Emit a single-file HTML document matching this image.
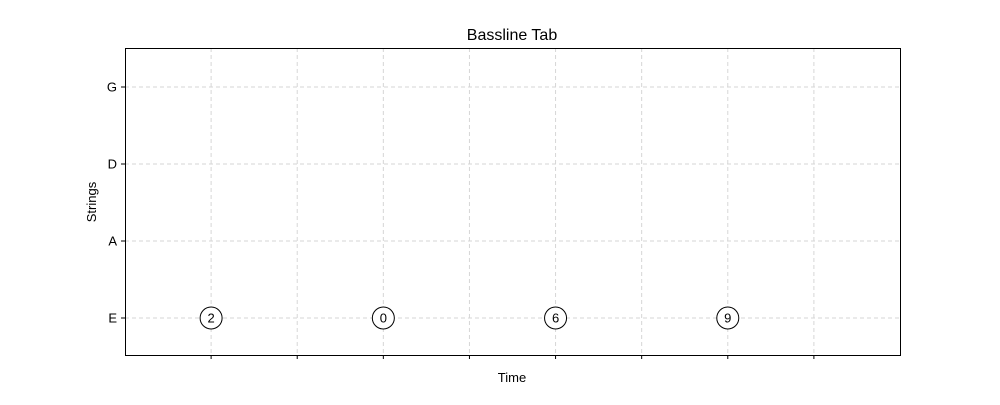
<!DOCTYPE html>
<html><head><meta charset="utf-8"><style>
body{margin:0;background:#fff;font-family:"Liberation Sans","DejaVu Sans",sans-serif}
</style></head><body>
<svg id="chart" width="1000" height="400" xmlns="http://www.w3.org/2000/svg">
<rect width="1000" height="400" fill="#fff"/>
<text x="512" y="40" text-anchor="middle" font-size="16">Bassline Tab</text>
<g id="grid"></g><g id="axes"></g><g id="notes"></g>
<rect x="125.5" y="48.5" width="775" height="307" fill="none" stroke="#000" stroke-width="1"/>
<text x="512" y="382" text-anchor="middle" font-size="13">Time</text>
<text x="96" y="202" text-anchor="middle" font-size="13" transform="rotate(-90 96 202)">Strings</text>
</svg>
<script>
const strings=["E","A","D","G"];
const xTicks=[1,2,3,4,5,6,7,8];
const noteTimes=[1,3,5,7];
const noteStrings=[0,0,0,0];
const noteFrets=["2","0","6","9"];
const L=125,R=900,T=48,B=355,xMin=0,xMax=9,yMin=-0.5,yMax=3.5;
const sx=v=>L+(v-xMin)/(xMax-xMin)*(R-L);
const sy=v=>318-v*77;
const NS="http://www.w3.org/2000/svg";
function mk(p,t,a){const e=document.createElementNS(NS,t);for(const k in a)e.setAttribute(k,a[k]);p.appendChild(e);return e;}
const g=document.getElementById('grid'),ax=document.getElementById('axes'),nt=document.getElementById('notes');
xTicks.forEach(v=>{const x=sx(v);
const l=mk(g,'line',{x1:x,x2:x,y1:T,y2:B,stroke:'#d6d6d6','stroke-dasharray':'4,3'});


const t=mk(ax,'line',{x1:x,x2:x,y1:B,y2:B+4,stroke:'#000'});

});
strings.forEach((s,i)=>{const y=sy(i);
const l=mk(g,'line',{x1:L,x2:R,y1:y,y2:y,stroke:'#d6d6d6','stroke-dasharray':'4,3'});


const t=mk(ax,'line',{x1:L-4,x2:L,y1:y,y2:y,stroke:'#000'});


const tx=mk(ax,'text',{x:L-8,y:y+4.5,'text-anchor':'end','font-size':13});tx.textContent=s;

});
noteTimes.forEach((v,i)=>{const x=sx(v),y=sy(noteStrings[i]);
const c=mk(nt,'circle',{cx:x,cy:y,r:11,fill:'#fff',stroke:'#000','stroke-width':1});


const t=mk(nt,'text',{x:x,y:y+4.5,'text-anchor':'middle','font-size':13});t.textContent=noteFrets[i];

});
</script>
</body></html>
